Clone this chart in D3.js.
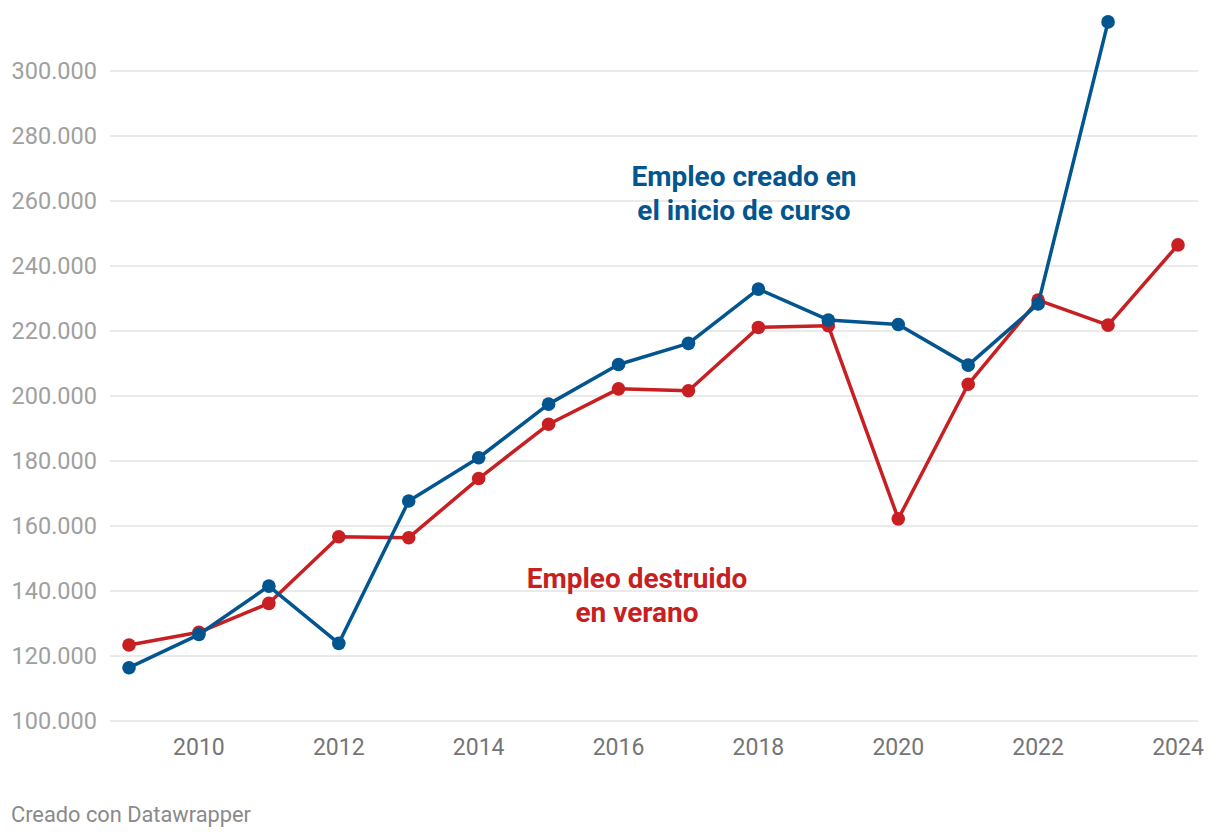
<!DOCTYPE html>
<html>
<head>
<meta charset="utf-8">
<script src="https://cdn.jsdelivr.net/npm/d3@7"></script>
<style>
  html, body { margin: 0; padding: 0; background: #fff; }
  svg { display: block; font-family: Roboto, "Noto Sans", sans-serif; }
</style>
</head>
<body>
<svg id="chart" width="1220" height="838"></svg>
<script>
const years = [2009,2010,2011,2012,2013,2014,2015,2016,2017,2018,2019,2020,2021,2022,2023,2024];
const creado = [116400,126600,141500,123900,167700,181000,197500,209700,216200,232900,223400,222000,209500,228300,315100,null];
const destruido = [123400,127300,136200,156700,156400,174600,191300,202200,201600,221100,221600,162200,203600,229500,221800,246500];
const yTicks = [100000,120000,140000,160000,180000,200000,220000,240000,260000,280000,300000];
const xTicks = [2010,2012,2014,2016,2018,2020,2022,2024];
const labelCreado = ["Empleo creado en", "el inicio de curso"];
const labelDestruido = ["Empleo destruido", "en verano"];
const footer = "Creado con Datawrapper";

const blue = "#03558f";
const red = "#c71f22";

const svg = d3.select("#chart");
const x = d3.scaleLinear().domain([2009, 2024]).range([129, 1178]);
const y = d3.scaleLinear().domain([100000, 300000]).range([721, 71]);
const fmt = v => d3.format(",")(v).replace(/,/g, ".");

// grid
svg.append("g").selectAll("line").data(yTicks).join("line")
  .attr("x1", 110).attr("x2", 1198)
  .attr("y1", d => y(d)).attr("y2", d => y(d))
  .attr("stroke", "#e3e3e3").attr("stroke-width", 1.5);

// y labels
svg.append("g").selectAll("text").data(yTicks).join("text")
  .attr("x", 97).attr("y", d => y(d)).attr("dy", "0.36em")
  .attr("text-anchor", "end").attr("fill", "#a0a0a0")
  .attr("font-size", 23.5).text(fmt);

// x labels
svg.append("g").selectAll("text").data(xTicks).join("text")
  .attr("x", d => x(d)).attr("y", 755)
  .attr("text-anchor", "middle").attr("fill", "#757575")
  .attr("font-size", 23).text(d => d);

function series(vals, color) {
  const pts = years.map((yr, i) => ({yr, v: vals[i]})).filter(d => d.v != null);
  const line = d3.line().x(d => x(d.yr)).y(d => y(d.v));
  const g = svg.append("g");
  g.append("path").datum(pts).attr("d", line)
    .attr("fill", "none").attr("stroke", color).attr("stroke-width", 3.5)
    .attr("stroke-linejoin", "round");
  g.selectAll("circle").data(pts).join("circle")
    .attr("cx", d => x(d.yr)).attr("cy", d => y(d.v)).attr("r", 6.8)
    .attr("fill", color);
}
series(destruido, red);
series(creado, blue);

// annotations
function annot(lines, cx, y0, color) {
  const t = svg.append("text").attr("text-anchor", "middle")
    .attr("fill", color).attr("font-size", 28).attr("font-weight", 700);
  lines.forEach((l, i) => t.append("tspan").attr("x", cx).attr("y", y0 + i * 34).text(l));
}
annot(labelCreado, 744, 186, blue);
annot(labelDestruido, 637, 588, red);

svg.append("text").attr("x", 11).attr("y", 822)
  .attr("fill", "#8a8a8a").attr("font-size", 21.8).text(footer);
</script>
</body>
</html>
